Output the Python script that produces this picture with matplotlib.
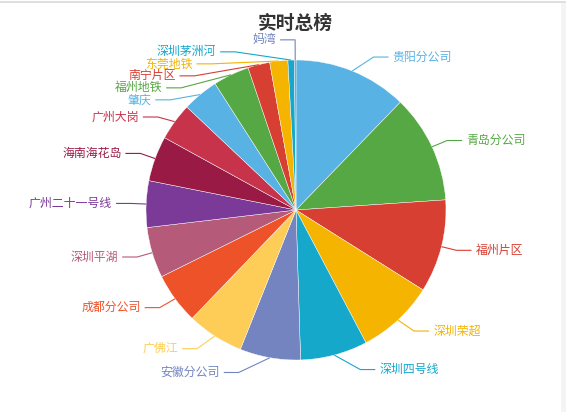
import math
import matplotlib
matplotlib.use("Agg")
import matplotlib.pyplot as plt
from matplotlib.patches import Rectangle

plt.rcParams['font.family'] = ['Noto Sans CJK SC', 'DejaVu Sans']

title = "实时总榜"
categories = ["贵阳分公司", "青岛分公司", "福州片区", "深圳荣超", "深圳四号线", "安徽分公司",
              "广佛江", "成都分公司", "深圳平湖", "广州二十一号线", "海南海花岛", "广州大岗",
              "肇庆", "福州地铁", "南宁片区", "东莞地铁", "深圳茅洲河", "妈湾"]
values = [44, 42, 36, 30, 26, 23.5, 22, 19.8, 19.6, 18, 17.5, 14.5, 14, 14, 8.5, 7, 2.5, 0.6]
palette = ["#58b3e4", "#55a844", "#d83f33", "#f4b400", "#15a8cb", "#7384c0",
           "#fdcd57", "#ee5228", "#b65a7a", "#7c3a98", "#9a1a46", "#c8334c"]

W, H = 566, 412
cx, cy, R = 296, 210, 150      # pixel coords (y down)
len1, len2, gap, lab_h = 15, 15, 4, 12

fig = plt.figure(figsize=(W / 100, H / 100), dpi=100)
ax = fig.add_axes([0, 0, 1, 1])
colors = [palette[i % len(palette)] for i in range(len(values))]
ax.pie(values, colors=colors, startangle=90, counterclock=False,
       center=(cx, H - cy), radius=R,
       wedgeprops=dict(edgecolor="white", linewidth=0.3))
ax.set_xlim(0, W)
ax.set_ylim(0, H)
ax.set_aspect("equal")
ax.axis("off")

# label layout (ECharts-like)
total = sum(values)
rA = R + len1
items = []
cum = 0.0
for i, v in enumerate(values):
    mid = math.radians(360.0 * (cum + v / 2) / total)
    cum += v
    ux, uy = math.sin(mid), -math.cos(mid)
    items.append(dict(i=i, sx=cx + R * ux, sy=cy + R * uy,
                      ex=cx + rA * ux, ey=cy + rA * uy,
                      side=1 if ux >= 0 else -1, shifted=False))

for side in (1, -1):
    lst = sorted([it for it in items if it["side"] == side], key=lambda d: d["ey"])
    last = -1e9
    shifts = []
    for it in lst:
        if it["ey"] < last + lab_h:
            s = last + lab_h - it["ey"]
            it["ey"] += s
            it["shifted"] = True
            shifts.append(s)
        last = it["ey"]
    # slight balance of shifted cluster (all but its last item move up)
    if shifts:
        bal = 0.25 * sum(shifts) / len(shifts)
        j = 0
        while j < len(lst):
            if j + 1 < len(lst) and lst[j + 1]["shifted"]:
                k = j + 1
                while k + 1 < len(lst) and lst[k + 1]["shifted"]:
                    k += 1
                for m in range(j, k):
                    lst[m]["ey"] -= bal
                j = k + 1
            else:
                j += 1
    # recalc x on ellipse per semi
    for top in (True, False):
        semi = [it for it in lst if (it["ey"] < cy) == top]
        if not semi:
            continue
        if any(it["shifted"] for it in semi):
            far = max(semi, key=lambda d: abs(d["ey"] - cy))
            dx0 = abs(far["ex"] - cx)
            dy0 = abs(far["ey"] - cy)
            rB = dy0 / math.sqrt(1 - (dx0 / rA) ** 2) if dx0 < rA else rA
        else:
            rB = rA * 1.05
        for it in semi:
            dy = abs(it["ey"] - cy)
            dx = math.sqrt(max(0.0, 1 - dy * dy / (rB * rB))) * rA
            it["ex"] = cx + side * dx

for it in items:
    c = colors[it["i"]]
    s = it["side"]
    x3 = it["ex"] + s * len2
    xs = [it["sx"], it["ex"], x3]
    ys = [H - it["sy"], H - it["ey"], H - it["ey"]]
    ax.plot(xs, ys, color=c, lw=0.8, solid_capstyle="butt")
    ax.text(x3 + s * gap, H - it["ey"], categories[it["i"]], color=c, fontsize=8.6,
            ha="left" if s > 0 else "right", va="center")

ax.text(295, H - 23, title, ha="center", va="center", fontsize=13.5,
        fontweight="bold", color="#333333")

# light frame of the source panel
ax.plot([0, W], [H - 2, H - 2], color="#d9d9d9", lw=1.2)
ax.add_patch(Rectangle((561, 0), 5, H - 3, color="#f4f4f4", lw=0))

fig.savefig("out.png", dpi=100)
